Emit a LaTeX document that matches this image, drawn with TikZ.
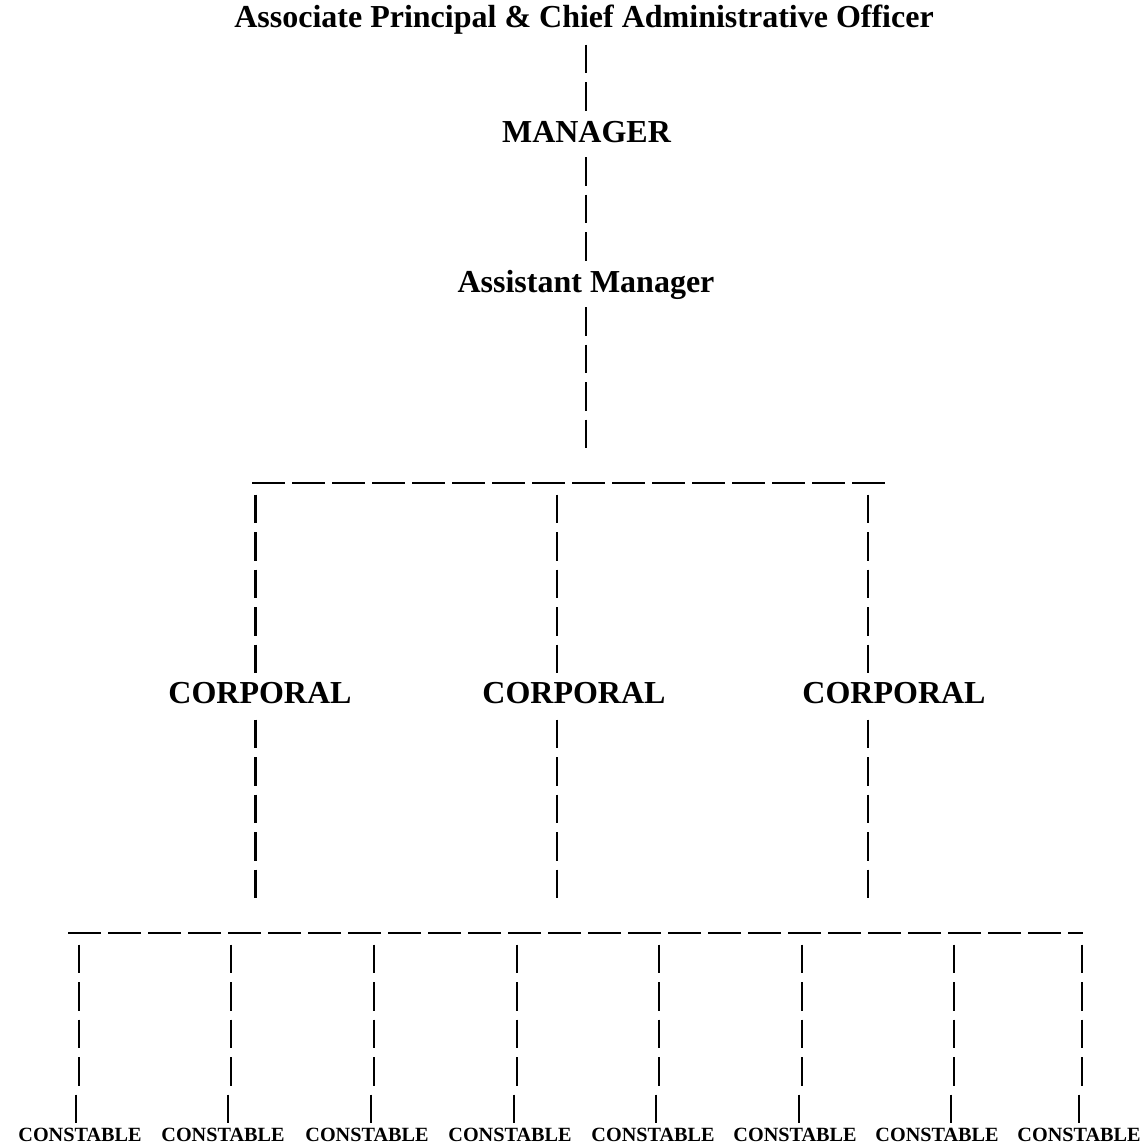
\documentclass[tikz,border=0pt]{standalone}
\usepackage{fontspec}
\setmainfont{Liberation Serif}
\begin{document}
\begin{tikzpicture}[x=0.5pt,y=-0.5pt]
\tikzset{
  lbl/.style={font=\bfseries\fontsize{16}{19}\selectfont, anchor=base, inner sep=0pt},
  smalllbl/.style={font=\bfseries\fontsize{10.1}{12}\selectfont, anchor=base, inner sep=0pt},
  vbar/.style={line width=1.2pt, dash pattern=on 14.25pt off 4.5pt},
  hbar/.style={line width=1.1pt, dash pattern=on 16.5pt off 3.5pt},
}
\fill[white] (0,0) rectangle (1148,1147);
\useasboundingbox (0,0) rectangle (1148,1147);

% labels
\node[lbl] (ceo) at (584,27) {Associate Principal \& Chief Administrative Officer};
\node[lbl] (mgr) at (586.5,142) {MANAGER};
\node[lbl] (am) at (586,292) {Assistant Manager};
\node[lbl] (c1) at (260,703) {CORPORAL};
\node[lbl] (c2) at (574,703) {CORPORAL};
\node[lbl] (c3) at (894,703) {CORPORAL};
\foreach \i/\x in {1/80,2/223,3/367,4/510,5/653,6/795,7/937,8/1079}{
  \node[smalllbl] (k\i) at (\x,1141) {CONSTABLE};
}

% top column
\coordinate (ceoB) at (586,44.5);
\coordinate (mgrT) at (586,110.5);
\coordinate (mgrB) at (586,157);
\coordinate (amT) at (586,260.5);
\coordinate (amB) at (586,307);
\coordinate (bus1C) at (586,448);
\draw[vbar] (ceoB) -- (mgrT);
\draw[vbar] (mgrB) -- (amT);
\draw[vbar] (amB) -- (bus1C);

% first bus
\coordinate (bus1L) at (252,483);
\coordinate (bus1R) at (885,483);
\draw[hbar] (bus1L) -- (bus1R);

% corporal columns
\foreach \n/\x in {1/255.5,2/557,3/868}{
  \coordinate (cu\n) at (\x,494.5);
  \coordinate (ct\n) at (\x,673);
  \coordinate (cb\n) at (\x,719.5);
  \coordinate (cd\n) at (\x,898);
  \draw[vbar] (cu\n) -- (ct\n);
  \draw[vbar] (cb\n) -- (cd\n);
}

% second bus
\coordinate (bus2L) at (68,933);
\coordinate (bus2R) at (1083,933);
\draw[hbar] (bus2L) -- (bus2R);

% constable columns
\foreach \n/\x in {1/79,2/231,3/374,4/517,5/659,6/802,7/954,8/1082}{
  \coordinate (ku\n) at (\x,944.5);
  \coordinate (km\n) at (\x,1085.5);
  \coordinate (kl\n) at (\x-3,1094.5);
  \coordinate (kt\n) at (\x-3,1123);
  \draw[vbar] (ku\n) -- (km\n);
  \draw[vbar] (kl\n) -- (kt\n);
}
\end{tikzpicture}
\end{document}
